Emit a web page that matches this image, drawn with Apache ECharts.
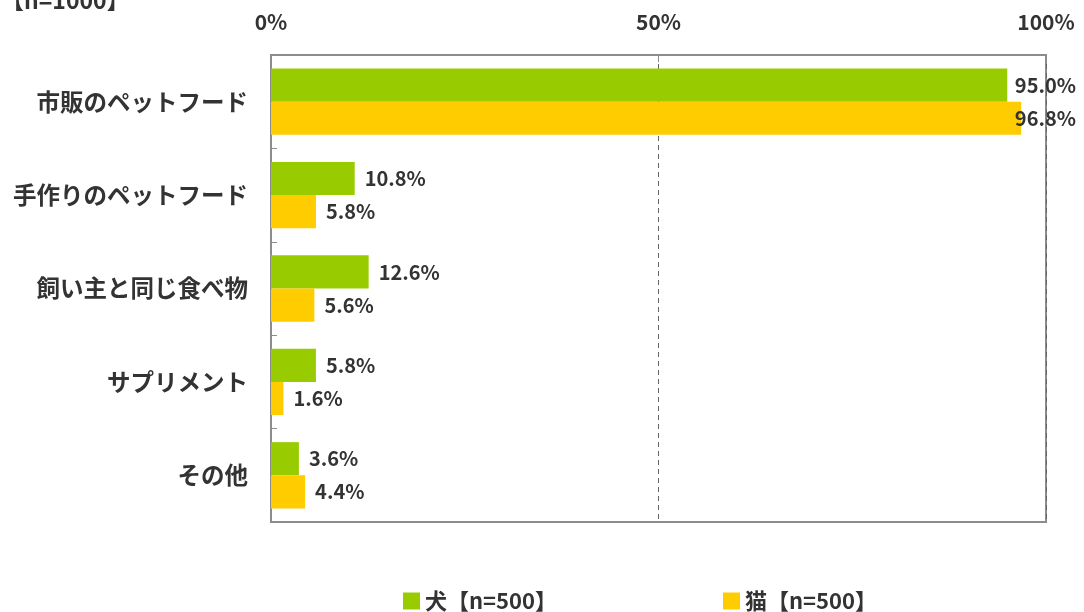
<!DOCTYPE html>
<html>
<head>
<meta charset="utf-8">
<script src="https://cdn.jsdelivr.net/npm/echarts@6/dist/echarts.min.js"></script>
<style>html,body{margin:0;padding:0;background:#fff}#c{width:1084px;height:612px}</style>
</head>
<body>
<div id="c"></div>
<script>
const categories = ['市販のペットフード','手作りのペットフード','飼い主と同じ食べ物','サプリメント','その他'];
const dogValues = [95.0, 10.8, 12.6, 5.8, 3.6];
const catValues = [96.8, 5.8, 5.6, 1.6, 4.4];
const seriesNames = ['犬【n=500】','猫【n=500】'];
const totalLabel = '【n=1000】';
const xTicks = {min: 0, max: 100, interval: 50};

const FONT = '"Noto Sans CJK JP", "Noto Sans", sans-serif';
const TXT = '#333333';
const chart = echarts.init(document.getElementById('c'), null, {renderer: 'canvas'});
const labelCfg = {
  show: true, position: 'right', distance: 10,
  fontFamily: FONT, fontWeight: 'bold', fontSize: 20, color: TXT,
  formatter: p => p.value.toFixed(1) + '%'
};
chart.setOption({
  animation: false,
  title: {text: totalLabel, left: -4, top: -16, textStyle: {fontFamily: FONT, fontWeight: 'bold', fontSize: 23, color: TXT}},
  grid: {left: 271, right: 38, top: 55, bottom: 90, show: true, borderColor: '#8c8c8c', borderWidth: 2, backgroundColor: 'transparent'},
  legend: {
    left: 398, top: 585, itemWidth: 17, itemHeight: 17, itemGap: 166,
    icon: 'rect',
    textStyle: {fontFamily: FONT, fontWeight: 'bold', fontSize: 22, color: TXT},
    data: seriesNames
  },
  xAxis: {
    type: 'value', position: 'top', min: xTicks.min, max: xTicks.max, interval: xTicks.interval,
    axisLine: {show: true, lineStyle: {color: '#8c8c8c', width: 2}},
    axisTick: {show: true, inside: true, length: 7, lineStyle: {color: '#8c8c8c', width: 1}},
    axisLabel: {formatter: '{value}%', fontFamily: FONT, fontWeight: 'bold', fontSize: 21, color: TXT, margin: 22},
    splitLine: {show: true, lineStyle: {color: '#666', type: [5, 4], width: 1}}
  },
  yAxis: {
    type: 'category', inverse: true, data: categories,
    axisLine: {show: true, lineStyle: {color: '#8c8c8c', width: 2}},
    axisTick: {show: true, inside: true, length: 6, lineStyle: {color: '#8c8c8c'}},
    axisLabel: {fontFamily: FONT, fontWeight: 'bold', fontSize: 23.5, color: TXT, margin: 23}
  },
  series: [
    {name: seriesNames[0], type: 'bar', data: dogValues, barGap: '0%', barCategoryGap: '29%',
     itemStyle: {color: '#99cc00'}, label: labelCfg},
    {name: seriesNames[1], type: 'bar', data: catValues, barGap: '0%', barCategoryGap: '29%',
     itemStyle: {color: '#ffcc00'}, label: labelCfg}
  ],
  labelLayout: function (p) {
    const r = p.labelRect;
    if (r.x + r.width > 1078) return {dx: 1076 - (r.x + r.width)};
    return {};
  }
});
</script>
</body>
</html>
